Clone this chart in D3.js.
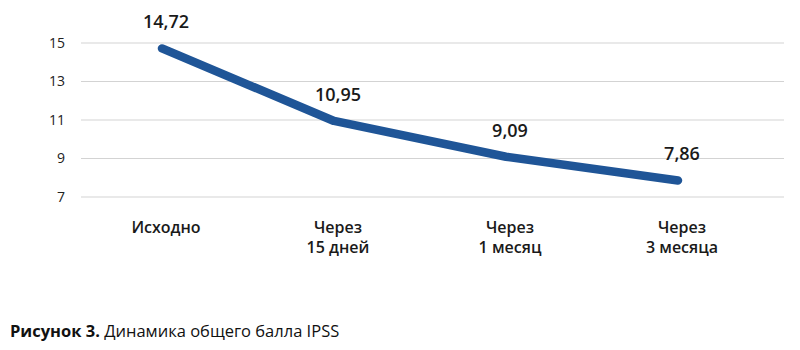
<!DOCTYPE html>
<html>
<head>
<meta charset="utf-8">
<script src="https://cdn.jsdelivr.net/npm/d3@7"></script>
<style>
  body { margin: 0; background: #fff; }
  svg { display: block; font-family: "Open Sans", "Noto Sans", sans-serif; }
</style>
</head>
<body>
<svg id="chart" width="800" height="350"></svg>
<script>
// chart data
const categories = ["Исходно", "Через\n15 дней", "Через\n1 месяц", "Через\n3 месяца"];
const values = [14.72, 10.95, 9.09, 7.86];
const yTicks = [7, 9, 11, 13, 15];
const valueLabels = ["14,72", "10,95", "9,09", "7,86"];

const svg = d3.select("#chart");

const gridLeft = 81, gridRight = 784;

const x = d3.scalePoint()
  .domain(categories)
  .range([162, 678]);

const y = d3.scaleLinear()
  .domain([7, 15])
  .range([197, 43]);

// horizontal gridlines
svg.append("g")
  .selectAll("line")
  .data(yTicks)
  .enter().append("line")
  .attr("x1", gridLeft)
  .attr("x2", gridRight)
  .attr("y1", d => y(d))
  .attr("y2", d => y(d))
  .attr("stroke", "#d3d3d3")
  .attr("stroke-width", 1);

// y tick labels
svg.append("g")
  .selectAll("text")
  .data(yTicks)
  .enter().append("text")
  .attr("x", 65)
  .attr("y", d => y(d))
  .attr("dy", "0.35em")
  .attr("text-anchor", "end")
  .style("font-size", "14px")
  .attr("fill", "#222")
  .text(d => d);

// line
const line = d3.line()
  .x((d, i) => x(categories[i]))
  .y(d => y(d));

svg.append("path")
  .datum(values)
  .attr("d", line)
  .attr("fill", "none")
  .attr("stroke", "#1f5597")
  .attr("stroke-width", 8.5)
  .attr("stroke-linecap", "round")
  .attr("stroke-linejoin", "round");

// value labels
svg.append("g")
  .selectAll("text")
  .data(values)
  .enter().append("text")
  .attr("x", (d, i) => x(categories[i]) + 4)
  .attr("y", d => y(d) - 20)
  .attr("text-anchor", "middle")
  .style("font-size", "18px")
  .style("font-weight", "600")
  .attr("fill", "#1a1a1a")
  .text((d, i) => valueLabels[i]);

// category labels
const cat = svg.append("g")
  .selectAll("text")
  .data(categories)
  .enter().append("text")
  .attr("x", d => x(d) + 4)
  .attr("y", 233)
  .attr("text-anchor", "middle")
  .style("font-size", "16px")
  .style("font-weight", "600")
  .attr("fill", "#1a1a1a");

cat.selectAll("tspan")
  .data(d => d.split("\n"))
  .enter().append("tspan")
  .attr("x", function () { return d3.select(this.parentNode).attr("x"); })
  .attr("dy", (d, i) => i === 0 ? 0 : "1.25em")
  .text(d => d);

// caption
const cap = svg.append("text")
  .attr("x", 10)
  .attr("y", 337)
  .style("font-size", "16.5px")
  .attr("fill", "#111");
cap.append("tspan").style("font-weight", "700").text("Рисунок 3.");
cap.append("tspan").text(" Динамика общего балла IPSS");
</script>
</body>
</html>
